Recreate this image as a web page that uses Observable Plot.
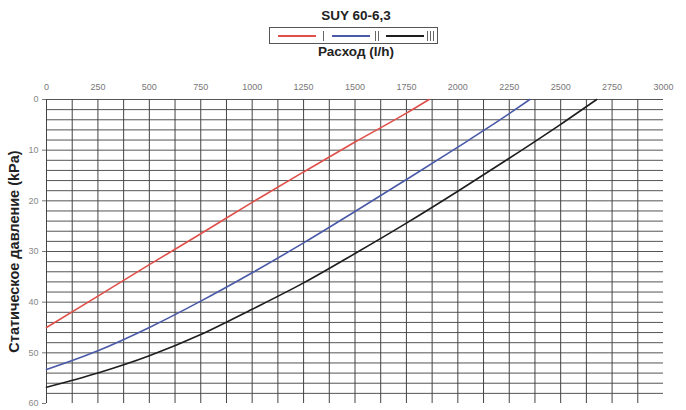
<!DOCTYPE html>
<html>
<head>
<meta charset="utf-8">
<script src="https://cdn.jsdelivr.net/npm/d3@7"></script>
<script src="https://cdn.jsdelivr.net/npm/@observablehq/plot@0.6"></script>
<style>
  html, body { margin: 0; padding: 0; background: #fff; }
  body { width: 686px; height: 410px; overflow: hidden; font-family: "Liberation Sans", Arial, sans-serif; }
  #head { position: relative; width: 686px; height: 65px; }
  #title { position: absolute; left: 0; width: 712px; top: 9px; text-align: center; font-weight: bold; font-size: 13.5px; color: #222; line-height: 14px; }
  #legend { position: absolute; left: 269px; top: 27px; width: 167px; height: 15px; border: 1px solid #555; box-sizing: content-box; }
  .sw { position: absolute; top: 7px; height: 1.5px; width: 38px; }
  .mk { position: absolute; top: 3px; height: 10px; width: 1px; background: #666; }
  #xlabel { position: absolute; left: 0; width: 712px; top: 45px; text-align: center; font-weight: bold; font-size: 13.5px; color: #222; line-height: 14px; }
  #chart svg { display: block; }
</style>
</head>
<body>
<div id="head">
  <div id="title"></div>
  <div id="legend"></div>
  <div id="xlabel"></div>
</div>
<div id="chart"></div>
<script>
// ---- Data ----
const chartTitle = "SUY 60-6,3";
const xTitle = "Расход (l/h)";
const yTitle = "Статическое давление (kPa)";

const seriesNames = ["I", "II", "III"];
const seriesMarkCounts = [1, 2, 3];
const seriesColors = ["#e0504a", "#4a5aa8", "#1e1e1e"];

const flowI   = [0, 250, 500, 750, 1000, 1250, 1500, 1750, 1860];
const kpaI    = [45, 38.8, 32.6, 26.5, 20.3, 14.3, 8.4, 2.7, 0];

const flowII  = [0, 250, 500, 750, 1000, 1250, 1500, 1750, 2000, 2250, 2350];
const kpaII   = [53.3, 49.6, 45.0, 39.8, 34.2, 28.3, 22.1, 15.8, 9.4, 2.8, 0];

const flowIII = [0, 250, 500, 750, 1000, 1250, 1500, 1750, 2000, 2250, 2500, 2675];
const kpaIII  = [56.8, 54.0, 50.6, 46.4, 41.4, 36.2, 30.4, 24.4, 18.1, 11.6, 4.9, 0];

const xTicks = [0, 250, 500, 750, 1000, 1250, 1500, 1750, 2000, 2250, 2500, 2750, 3000];
const yTicks = [0, 10, 20, 30, 40, 50, 60];

// ---- Build ----
document.getElementById("title").textContent = chartTitle;
document.getElementById("xlabel").textContent = xTitle;

const legend = document.getElementById("legend");
const swLeft = [8, 62, 116];
const mkLeft = [53, 105, 157];
seriesNames.forEach((s, i) => {
  const sw = document.createElement("div");
  sw.className = "sw";
  sw.style.left = swLeft[i] + "px";
  sw.style.background = seriesColors[i];
  legend.appendChild(sw);
  for (let k = 0; k < seriesMarkCounts[i]; k++) {
    const mk = document.createElement("div");
    mk.className = "mk";
    mk.style.left = (mkLeft[i] + k * 3) + "px";
    legend.appendChild(mk);
  }
});

const rows = [];
[[flowI, kpaI], [flowII, kpaII], [flowIII, kpaIII]].forEach(([fx, ky], i) => {
  fx.forEach((f, j) => rows.push({flow: f, kpa: ky[j], series: seriesNames[i]}));
});

const xGrid = d3.range(0, 3000, 125);
const yGrid = d3.range(0, 60, 2);

const chart = Plot.plot({
  width: 686,
  height: 345,
  marginTop: 34,
  marginBottom: 7,
  marginLeft: 46,
  marginRight: 23,
  style: {fontFamily: "'Liberation Sans', Arial, sans-serif", background: "#fff", overflow: "visible"},
  x: {domain: [0, 3000]},
  y: {domain: [0, 60], reverse: true},
  color: {domain: seriesNames, range: seriesColors},
  marks: [
    Plot.ruleY(yGrid, {y: d => d, x1: 0, x2: 3000, stroke: "#555", strokeWidth: 1}),
    Plot.ruleX(xGrid, {x: d => d, y1: 0, y2: 60, stroke: "#444", strokeWidth: 1}),
    Plot.axisX({anchor: "top", ticks: xTicks, tickFormat: d => String(d), tickSize: 0, tickPadding: 10, fontSize: 9, fill: "#777", label: null}),
    Plot.axisY({anchor: "left", ticks: yTicks, tickFormat: d => String(d), tickSize: 4, tickPadding: 4, fontSize: 9, fill: "#888", stroke: "#777", label: null}),
    Plot.line(rows, {x: "flow", y: "kpa", z: "series", stroke: "series", strokeWidth: 1.6, curve: "monotone-x"}),
    Plot.text([yTitle], {frameAnchor: "left", rotate: -90, dx: -32, textAnchor: "middle", text: d => d, fontSize: 14.5, fontWeight: "bold", fill: "#222"})
  ]
});
document.getElementById("chart").appendChild(chart);
</script>
</body>
</html>
